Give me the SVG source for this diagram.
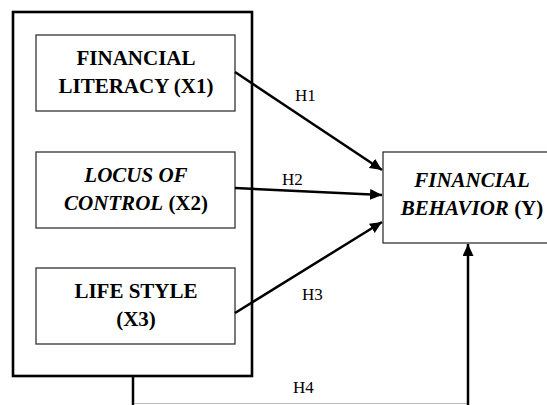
<svg xmlns="http://www.w3.org/2000/svg" width="547" height="405" viewBox="0 0 547 405">
<style>
.box{fill:#fff;stroke:#333;stroke-width:1.3}
.outer{fill:none;stroke:#000;stroke-width:2.6}
.arr{stroke:#000;stroke-width:2.5;fill:none}
</style>
<defs>
<marker id="ah" markerUnits="userSpaceOnUse" markerWidth="14" markerHeight="12" refX="12" refY="5.5" orient="auto">
<path d="M0,0 L12,5.5 L0,11 Z" fill="#000"/>
</marker>
</defs>
<rect width="547" height="405" fill="#fff"/>
<g id="group-x">
<rect class="outer" x="13" y="12" width="239" height="364"/>
</g>
<g id="x1">
<rect class="box" x="36" y="35" width="199" height="76"/>
<text x="136" y="65" font-family="Times New Roman" font-size="21" font-weight="bold" text-anchor="middle">FINANCIAL</text>
<text x="136" y="93" font-family="Times New Roman" font-size="21" font-weight="bold" text-anchor="middle">LITERACY (X1)</text>
</g>
<g id="x2">
<rect class="box" x="36" y="152" width="199" height="76"/>
<text x="136" y="182" font-family="Times New Roman" font-size="21" font-weight="bold" font-style="italic" text-anchor="middle">LOCUS OF</text>
<text x="136" y="210" font-family="Times New Roman" font-size="21" font-weight="bold" text-anchor="middle"><tspan font-style="italic">CONTROL</tspan> (X2)</text>
</g>
<g id="x3">
<rect class="box" x="36" y="268" width="199" height="76"/>
<text x="136" y="298" font-family="Times New Roman" font-size="21" font-weight="bold" text-anchor="middle">LIFE STYLE</text>
<text x="136" y="326" font-family="Times New Roman" font-size="21" font-weight="bold" text-anchor="middle">(X3)</text>
</g>
<g id="y">
<rect class="box" x="383" y="152" width="170" height="91"/>
<text x="472" y="187" font-family="Times New Roman" font-size="21" font-weight="bold" font-style="italic" text-anchor="middle">FINANCIAL</text>
<text x="472" y="215" font-family="Times New Roman" font-size="21" font-weight="bold" text-anchor="middle"><tspan font-style="italic">BEHAVIOR</tspan> (Y)</text>
</g>
<g id="connectors">
<line class="arr" x1="235" y1="72" x2="382" y2="170" marker-end="url(#ah)"/>
<line class="arr" x1="235" y1="188" x2="382" y2="195" marker-end="url(#ah)"/>
<line class="arr" x1="235" y1="313" x2="382" y2="222" marker-end="url(#ah)"/>
<line class="arr" x1="133" y1="377" x2="133" y2="405"/>
<line x1="134" y1="403.5" x2="467" y2="403.5" stroke="#bbb" stroke-width="1"/>
<line class="arr" x1="468" y1="405" x2="468" y2="244" marker-end="url(#ah)"/>
<text x="295" y="101" font-family="Times New Roman" font-size="17">H1</text>
<text x="282" y="185" font-family="Times New Roman" font-size="17">H2</text>
<text x="302" y="300" font-family="Times New Roman" font-size="17">H3</text>
<text x="293" y="393" font-family="Times New Roman" font-size="17">H4</text>
</g>
</svg>
